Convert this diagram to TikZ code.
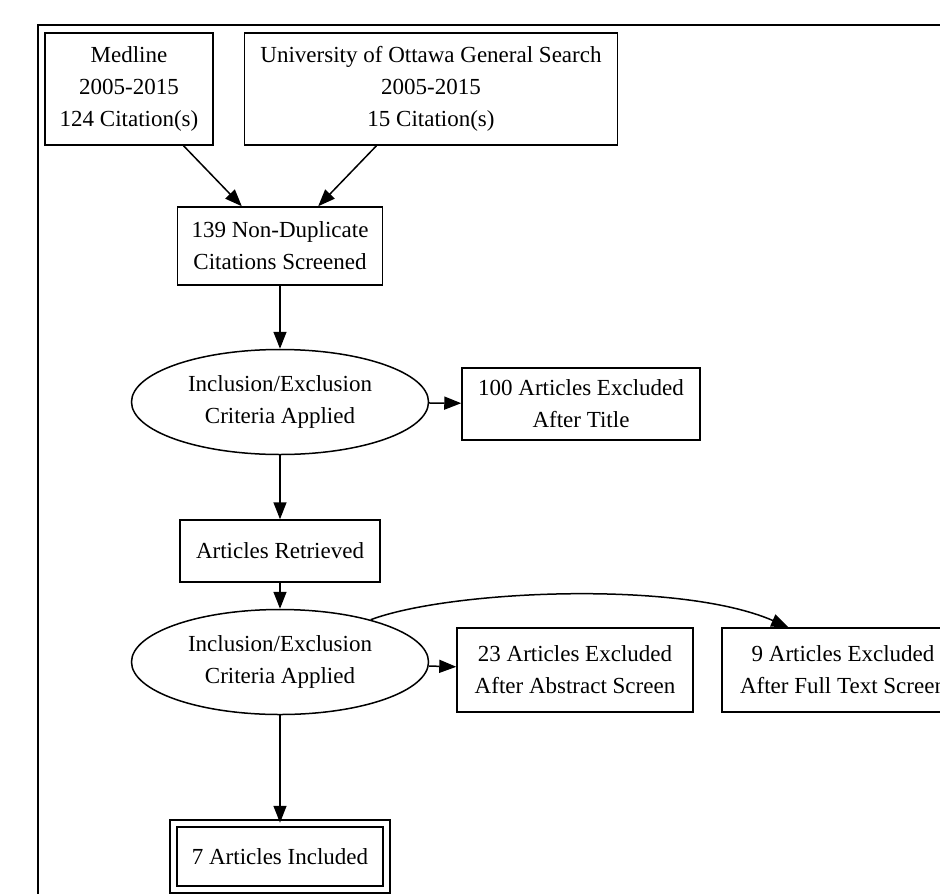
\documentclass[tikz,border=0pt]{standalone}
\usepackage{fontspec}
\setmainfont{Liberation Serif}
\usetikzlibrary{shapes.geometric,arrows.meta}
\begin{document}
\begin{tikzpicture}[x=0.5pt, y=-0.5pt, line width=0.75pt, >={Triangle[length=8.5pt,width=6.5pt]},
  every node/.style={font=\fontsize{11.5}{16}\selectfont, align=center, inner sep=0pt},
  box/.style={draw, rectangle},
  crit/.style={draw, ellipse, minimum width=148.5pt, minimum height=52.5pt},
  final/.style={draw, rectangle, double, double distance=2.8pt}]
\useasboundingbox (0,0) rectangle (940,893);
\draw[line width=1pt] (38,25) rectangle (1000,1000);

\node[box, minimum width=84pt, minimum height=56pt] (A) at (129,89) {Medline\\2005-2015\\124 Citation(s)};
\node[box, minimum width=186.5pt, minimum height=56pt] (B) at (431,89) {University of Ottawa General Search\\2005-2015\\15 Citation(s)};
\node[box, minimum width=102.5pt, minimum height=39pt] (C) at (280,246) {139 Non-Duplicate\\Citations Screened};
\node[crit] (D) at (280,402) {Inclusion/Exclusion\\Criteria Applied};
\node[box, minimum width=119pt, minimum height=36pt] (E) at (581,404) {100 Articles Excluded\\After Title};
\node[box, minimum width=100pt, minimum height=31pt] (F) at (280,551) {Articles Retrieved};
\node[crit] (G) at (280,662) {Inclusion/Exclusion\\Criteria Applied};
\node[box, minimum width=118pt, minimum height=42pt] (H) at (575,670) {23 Articles Excluded\\After Abstract Screen};
\node[box, minimum width=121pt, minimum height=42pt] (I) at (843,670) {9 Articles Excluded\\After Full Text Screen};
\node[final, minimum width=106.5pt, minimum height=33pt] (J) at (280,856.5) {7 Articles Included};

\draw[->] (A) to (C);
\draw[->] (B) to (C);
\draw[->] (C) to (D);
\draw[->] (D) to (E);
\draw[->] (D) to (F);
\draw[->] (F) to (G);
\draw[->] (G) to (H);
\draw[->] (G.25) .. controls (450,590) and (680,580) .. (I.142);
\draw[->] (G) to (J);
\end{tikzpicture}
\end{document}
